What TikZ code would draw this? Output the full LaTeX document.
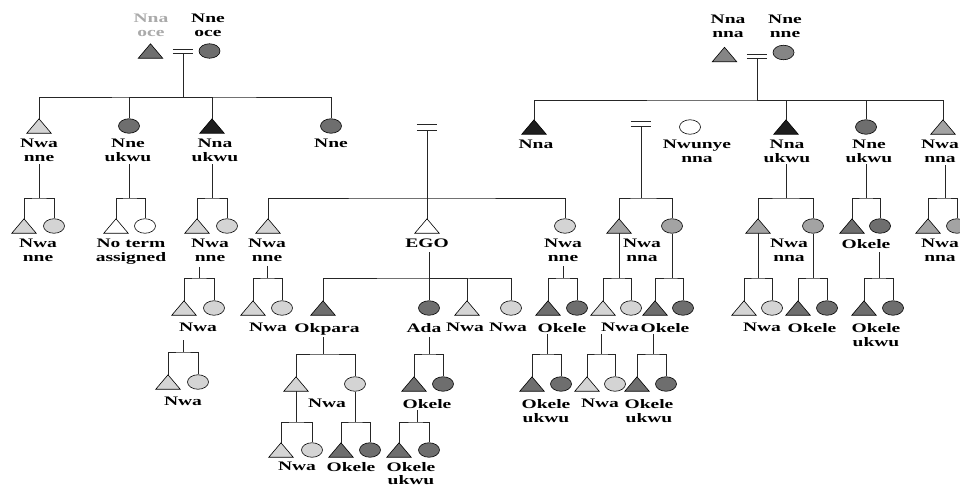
\documentclass[tikz,border=0pt]{standalone}
\usepackage{fontspec}
\setmainfont{Liberation Serif}[FakeStretch=1.5]
\usetikzlibrary{shapes.geometric,calc}
\definecolor{lg}{HTML}{D4D4D4}
\definecolor{mg}{HTML}{A3A3A3}
\definecolor{mdg}{HTML}{858585}
\definecolor{dg}{HTML}{6E6E6E}
\definecolor{bk}{HTML}{1E1E1E}
\definecolor{txtgray}{HTML}{AAAAAA}
\tikzset{
  male/.style={rectangle, inner sep=0pt, minimum width=24pt, minimum height=14pt,
    append after command={\pgfextra{\filldraw[fill=#1, draw=black, line width=0.6pt]
      (\tikzlastnode.south west) -- (\tikzlastnode.south east) -- (\tikzlastnode.north) -- cycle;}}},
  fem/.style={ellipse, draw=black, line width=0.6pt, fill=#1, inner sep=0pt, minimum width=21pt, minimum height=14.5pt},
  eqsign/.style={rectangle, inner sep=0pt, minimum width=20pt, minimum height=#1,
    append after command={\pgfextra{\draw[line width=0.9pt, black!85]
      (\tikzlastnode.north west) -- (\tikzlastnode.north east)
      (\tikzlastnode.south west) -- (\tikzlastnode.south east);}}},
  lab/.style={anchor=north, inner sep=0pt, align=center, font=\fontsize{13}{14}\selectfont\bfseries},
  ln/.style={draw=black!85, line width=0.8pt},
}
\begin{document}
\begin{tikzpicture}[x=1pt,y=-1pt]
\useasboundingbox (0,0) rectangle (960,488);
\fill[white] (0,0) rectangle (960,488);

% ---------- generation 0 ----------
\node[male=dg] (nnaoce) at (150.5,51) {};
\node[fem=dg] (nneoce) at (209.5,51) {};
\node[eqsign=3.5pt] (eqL) at (183,51.7) {};
\node[lab, text=txtgray] (tnnaoce) at (151,14) {Nna\\oce};
\node[lab] (tnneoce) at (208,14) {Nne\\oce};

\node[male=mdg] (nnanna) at (724.5,54.5) {};
\node[fem=mdg] (nnenne) at (783.5,52.5) {};
\node[eqsign=3.5pt] (eqR) at (757,56.7) {};
\node[lab] (tnnanna) at (728,15) {Nna\\nna};
\node[lab] (tnnenne) at (785,15) {Nne\\nne};

% ---------- generation 1 ----------
\node[male=lg] (L1) at (39,126) {};
\node[fem=dg] (L2) at (129,126) {};
\node[male=bk] (L3) at (212,126) {};
\node[fem=dg] (L4) at (331,126) {};
\node[lab] (tL1) at (39,139) {Nwa\\nne};
\node[lab] (tL2) at (128,139) {Nne\\ukwu};
\node[lab] (tL3) at (215,139) {Nna\\ukwu};
\node[lab] (tL4) at (331,139) {Nne};
\coordinate (jL) at (183,97);
\draw[ln] (eqL.south) -- (jL);
\draw[ln] (L1.north) |- (jL) -| (L4.north);
\draw[ln] (L2.north) |- (jL);
\draw[ln] (L3.north) |- (jL);

\node[male=bk] (R0) at (534,127) {};
\node[fem=white] (Rw) at (690,127) {};
\node[male=bk] (R1) at (786,127) {};
\node[fem=dg] (R2) at (866,127) {};
\node[male=mg] (R3) at (943,127) {};
\node[lab] (tR0) at (536,140) {Nna};
\node[lab] (tRw) at (697,140) {Nwunye\\nna};
\node[lab] (tR1) at (787,140) {Nna\\ukwu};
\node[lab] (tR2) at (869,140) {Nne\\ukwu};
\node[lab] (tR3) at (940,140) {Nwa\\nna};
\coordinate (jR) at (757,100);
\draw[ln] (eqR.south) -- (jR);
\draw[ln] (R0.north) |- (jR) -| (R3.north);
\draw[ln] (R1.north) |- (jR);
\draw[ln] (R2.north) |- (jR);

\node[eqsign=5pt] (eqE) at (427,127.5) {};
\node[eqsign=5pt] (eqN) at (641,124) {};

% ---------- generation 2 ----------
\node[male=lg] (a1) at (24,226) {};
\node[fem=lg] (a2) at (54,226) {};
\node[lab] (ta) at (38,239) {Nwa\\nne};
\coordinate (dA) at (39,164); \coordinate (jA) at (39,198);
\draw[ln] (dA) -- (jA);
\draw[ln] (a1.north) |- (jA) -| (a2.north);

\node[male=white] (b1) at (116,226) {};
\node[fem=white] (b2) at (145,226) {};
\node[lab] (tb) at (131,239) {No term\\assigned};
\coordinate (dB) at (129,164); \coordinate (jB) at (129,198);
\draw[ln] (dB) -- (jB);
\draw[ln] (b1.north) |- (jB) -| (b2.north);

\node[male=lg] (c1) at (197,226) {};
\node[fem=lg] (c2) at (227,226) {};
\node[lab] (tc) at (210,239) {Nwa\\nne};
\coordinate (dC) at (212,164); \coordinate (jC) at (212,198);
\draw[ln] (dC) -- (jC);
\draw[ln] (c1.north) |- (jC) -| (c2.north);

\node[male=lg] (e1) at (268,226) {};
\node[male=white] (ego) at (427,226) {};
\node[fem=lg] (e3) at (565,226) {};
\node[lab] (te1) at (267,239) {Nwa\\nne};
\node[lab] (tego) at (427,239) {EGO};
\node[lab] (te3) at (563,239) {Nwa\\nne};
\coordinate (jE) at (427,198);
\draw[ln] (eqE.south) -- (ego.north);
\draw[ln] (e1.north) |- (jE) -| (e3.north);

\node[male=mg] (n1) at (619,226) {};
\node[fem=mg] (n2) at (672,226) {};
\node[lab] (tn) at (642,239) {Nwa\\nna};
\coordinate (jN) at (641,198);
\draw[ln] (eqN.south) -- (jN);
\draw[ln] (n1.north) |- (jN) -| (n2.north);

\node[male=mg] (u1) at (758,226) {};
\node[fem=mg] (u2) at (813,226) {};
\node[lab] (tu) at (789,239) {Nwa\\nna};
\coordinate (dU) at (786,164); \coordinate (jU) at (786,198);
\draw[ln] (dU) -- (jU);
\draw[ln] (u1.north) |- (jU) -| (u2.north);

\node[male=dg] (k1) at (852,226) {};
\node[fem=dg] (k2) at (880,226) {};
\node[lab] (tk) at (866,239) {Okele};
\coordinate (dK) at (866,164); \coordinate (jK) at (866,198);
\draw[ln] (dK) -- (jK);
\draw[ln] (k1.north) |- (jK) -| (k2.north);

\node[male=mg] (w1) at (928,226) {};
\node[fem=mg] (w2) at (957,226) {};
\node[lab] (tw) at (940,239) {Nwa\\nna};
\coordinate (dW) at (945,165); \coordinate (jW) at (945,198);
\draw[ln] (dW) -- (jW);
\draw[ln] (w1.north) |- (jW) -| (w2.north);

% ---------- generation 3 ----------
\node[male=lg] (c3) at (184,308) {};
\node[fem=lg] (c4) at (214,308) {};
\node[lab] (tc3) at (198,323) {Nwa};
\coordinate (dC3) at (199,267); \coordinate (jC3) at (199,278);
\draw[ln] (dC3) -- (jC3);
\draw[ln] (c3.north) |- (jC3) -| (c4.north);

\node[male=lg] (f1) at (253,308) {};
\node[fem=lg] (f2) at (282,308) {};
\node[lab] (tf) at (268,323) {Nwa};
\coordinate (dF) at (267,266); \coordinate (jF) at (267,278);
\draw[ln] (dF) -- (jF);
\draw[ln] (f1.north) |- (jF) -| (f2.north);

\node[male=dg] (okpara) at (323,308) {};
\node[fem=dg] (ada) at (429,308) {};
\node[male=lg] (g3) at (467,308) {};
\node[fem=lg] (g4) at (511,308) {};
\node[lab] (tokpara) at (327,323) {Okpara};
\node[lab] (tada) at (424,323) {Ada};
\node[lab] (tg3) at (465,323) {Nwa};
\node[lab] (tg4) at (508,323) {Nwa};
\coordinate (dG) at (429,252); \coordinate (jG) at (429,278);
\draw[ln] (dG) -- (jG);
\draw[ln] (okpara.north) |- (jG) -| (g4.north);
\draw[ln] (ada.north) -- (jG);
\draw[ln] (g3.north) |- (jG);

\node[male=dg] (h1) at (548,308) {};
\node[fem=dg] (h2) at (577,308) {};
\node[lab] (th) at (562,323) {Okele};
\coordinate (dH) at (563,266); \coordinate (jH) at (563,278);
\draw[ln] (dH) -- (jH);
\draw[ln] (h1.north) |- (jH) -| (h2.north);

\node[male=lg] (i1) at (603,308) {};
\node[fem=lg] (i2) at (631,308) {};
\node[lab] (ti) at (620,323) {Nwa};
\coordinate (jI) at (619,278);
\draw[ln] (n1.south) -- (jI);
\draw[ln] (i1.north) |- (jI) -| (i2.north);

\node[male=dg] (j1) at (655,308) {};
\node[fem=dg] (j2) at (683,308) {};
\node[lab] (tj) at (665,323) {Okele};
\coordinate (jJ) at (672,278);
\draw[ln] (n2.south) -- (jJ);
\draw[ln] (j1.north) |- (jJ) -| (j2.north);

\node[male=lg] (p1) at (744,308) {};
\node[fem=lg] (p2) at (772,308) {};
\node[lab] (tp) at (762,323) {Nwa};
\coordinate (jP) at (758,278);
\draw[ln] (u1.south) -- (jP);
\draw[ln] (p1.north) |- (jP) -| (p2.north);

\node[male=dg] (q1) at (798,308) {};
\node[fem=dg] (q2) at (827,308) {};
\node[lab] (tq) at (812,323) {Okele};
\coordinate (jQ) at (813,278);
\draw[ln] (u2.south) -- (jQ);
\draw[ln] (q1.north) |- (jQ) -| (q2.north);

\node[male=dg] (s1) at (864,308) {};
\node[fem=dg] (s2) at (893,308) {};
\node[lab] (ts) at (876,323) {Okele\\ukwu};
\coordinate (dS) at (879,252); \coordinate (jS) at (879,278);
\draw[ln] (dS) -- (jS);
\draw[ln] (s1.north) |- (jS) -| (s2.north);

% ---------- generation 4 ----------
\node[male=lg] (c5) at (168,382) {};
\node[fem=lg] (c6) at (198,382) {};
\node[lab] (tc5) at (183,397) {Nwa};
\coordinate (dC5) at (183,340); \coordinate (jC5) at (183,352);
\draw[ln] (dC5) -- (jC5);
\draw[ln] (c5.north) |- (jC5) -| (c6.north);

\node[male=lg] (t1) at (296,384) {};
\node[fem=lg] (t2) at (355,384) {};
\node[lab] (tt) at (327,399) {Nwa};
\coordinate (dT) at (323,337); \coordinate (jT) at (323,354);
\draw[ln] (dT) -- (jT);
\draw[ln] (t1.north) |- (jT) -| (t2.north);

\node[male=dg] (v1) at (414,384) {};
\node[fem=dg] (v2) at (443,384) {};
\node[lab] (tv) at (427,399) {Okele};
\coordinate (dV) at (429,337); \coordinate (jV) at (429,354);
\draw[ln] (dV) -- (jV);
\draw[ln] (v1.north) |- (jV) -| (v2.north);

\node[male=dg] (x1) at (532,384) {};
\node[fem=dg] (x2) at (561,384) {};
\node[lab] (tx) at (546,399) {Okele\\ukwu};
\coordinate (dX) at (547,334); \coordinate (jX) at (547,354);
\draw[ln] (dX) -- (jX);
\draw[ln] (x1.north) |- (jX) -| (x2.north);

\node[male=lg] (y1) at (587,384) {};
\node[fem=lg] (y2) at (615,384) {};
\node[lab] (ty) at (600,399) {Nwa};
\coordinate (dY) at (601,334); \coordinate (jY) at (601,354);
\draw[ln] (dY) -- (jY);
\draw[ln] (y1.north) |- (jY) -| (y2.north);

\node[male=dg] (z1) at (637,384) {};
\node[fem=dg] (z2) at (666,384) {};
\node[lab] (tz) at (649,399) {Okele\\ukwu};
\coordinate (dZ) at (653,334); \coordinate (jZ) at (653,354);
\draw[ln] (dZ) -- (jZ);
\draw[ln] (z1.north) |- (jZ) -| (z2.north);

% ---------- generation 5 ----------
\node[male=lg] (aa1) at (281,450) {};
\node[fem=lg] (aa2) at (312,450) {};
\node[lab] (taa) at (297,462) {Nwa};
\coordinate (jAA) at (296,422);
\draw[ln] (t1.south) -- (jAA);
\draw[ln] (aa1.north) |- (jAA) -| (aa2.north);

\node[male=dg] (bb1) at (341,450) {};
\node[fem=dg] (bb2) at (370,450) {};
\node[lab] (tbb) at (351,462) {Okele};
\coordinate (jBB) at (355,422);
\draw[ln] (t2.south) -- (jBB);
\draw[ln] (bb1.north) |- (jBB) -| (bb2.north);

\node[male=dg] (cc1) at (399,450) {};
\node[fem=dg] (cc2) at (429,450) {};
\node[lab, font=\fontsize{13}{13}\selectfont\bfseries] (tcc) at (411,462) {Okele\\ukwu};
\coordinate (dCC) at (417,410); \coordinate (jCC) at (417,422);
\draw[ln] (dCC) -- (jCC);
\draw[ln] (cc1.north) |- (jCC) -| (cc2.north);
\end{tikzpicture}
\end{document}
